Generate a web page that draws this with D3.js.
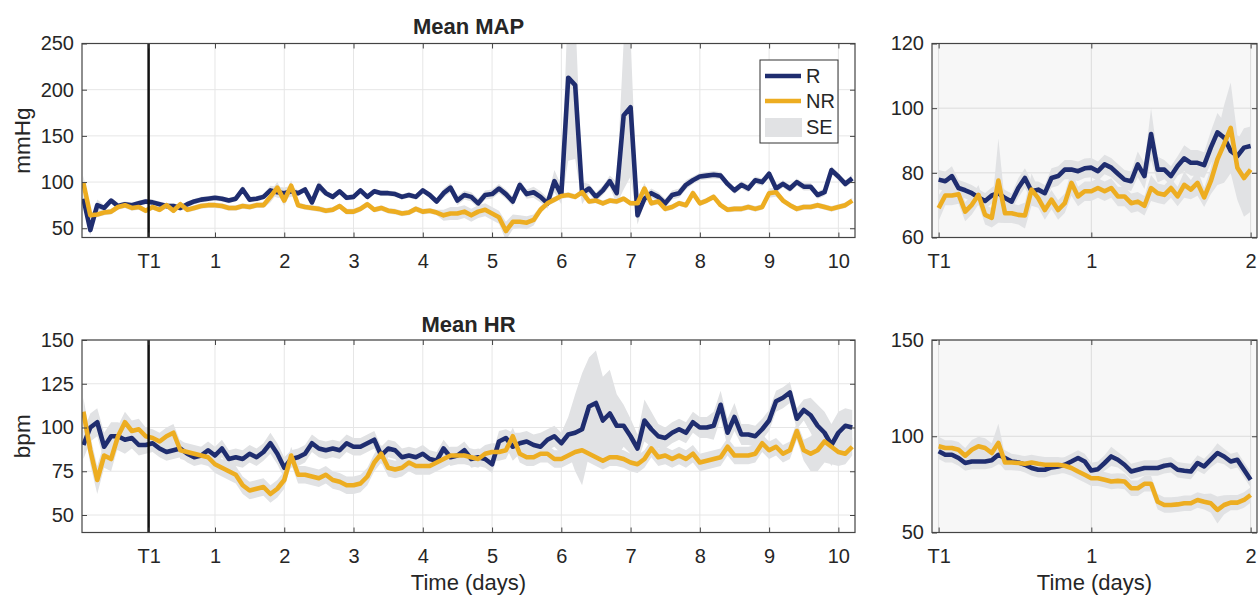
<!DOCTYPE html>
<html>
<head>
<meta charset="utf-8">
<script src="https://cdn.jsdelivr.net/npm/d3@7"></script>
<style>
  body { margin: 0; background: #fff; }
  svg text { font-family: "Liberation Sans", Arial, Helvetica, sans-serif; fill: #262626; }
</style>
</head>
<body>
<svg id="chart" width="1259" height="596"></svg>
<script>

// ---- data: full course, one value every 0.1 day starting at -0.9 days
var leftStart = -0.9, leftStep = 0.1;

var mapR = [82,48,75,72,80,74,76,75,77,
  79,78,76,74,74,72,76,79,81,82,
  83,82,80,82,92,81,82,84,91,89,
  88,90,88,92,78,96,88,84,90,83,
  84,91,84,90,88,88,87,84,86,84,
  91,86,79,88,94,80,86,84,77,86,
  87,93,87,79,97,87,89,84,77,101,
  86,213,205,88,93,84,91,101,88,172,
  181,64,82,88,84,77,86,88,97,102,
  106,107,108,107,98,91,97,93,102,100,
  109,93,98,93,100,95,95,86,89,113,
  106,98,104];
var mapNR = [99,64,65,67,68,73,75,72,73,
  69,73,70,75,69,76,70,72,74,75,
  75,74,72,72,74,73,75,75,84,94,
  80,96,75,73,72,71,69,70,74,68,
  68,71,76,70,72,69,68,66,67,71,
  68,69,67,64,66,66,68,64,68,70,
  66,62,47,57,57,56,59,70,77,81,
  85,86,84,89,79,80,77,80,79,82,
  77,77,93,77,79,71,73,77,75,88,
  77,80,84,75,70,71,71,73,71,73,
  88,89,80,75,71,73,73,75,73,71,
  73,75,80];
var mapSeR = [6,6,6,3,3,3,3,3,3,
  3,3,3,3,3,3,3,3,3,3,
  3,3,3,3,4,3,3,3,5,6,
  6,6,3,3,6,6,3,3,3,3,
  3,3,3,3,3,3,3,3,3,3,
  3,3,3,5,5,5,5,5,5,5,
  5,5,5,5,5,5,6,6,6,12,
  10,90,80,12,5,5,5,6,12,80,
  75,10,5,5,5,5,5,5,5,4,
  4,4,4,4,4,4,4,4,4,4,
  4,4,4,4,4,4,4,4,4,4,
  4,4,4];
var mapSeNR = [8,4,3,3,3,3,3,3,3,
  3,3,3,3,3,3,3,3,3,3,
  3,3,3,3,3,3,3,3,6,6,
  6,6,3,3,3,3,3,3,3,3,
  3,3,3,3,3,3,3,3,3,3,
  3,3,3,6,7,7,7,7,7,7,
  7,7,10,8,7,7,6,4,3,3,
  3,3,3,3,3,3,3,3,3,3,
  3,3,6,3,3,3,3,3,3,4,
  3,3,3,3,3,3,3,3,3,3,
  5,5,3,3,3,3,3,3,3,3,
  3,3,3];

var hrR = [90,100,103,89,95,95,93,94,90,
  90,91,88,86,87,88,85,83,84,87,
  84,88,82,83,82,85,83,86,91,85,
  77,82,83,85,91,88,87,88,87,91,
  89,89,91,93,84,88,87,83,84,83,
  85,82,81,88,83,84,87,82,83,82,
  79,92,94,89,91,92,90,89,93,95,
  91,96,97,99,112,114,104,108,101,101,
  95,88,104,99,95,94,97,99,97,103,
  100,100,101,113,97,106,96,96,95,99,
  104,115,117,120,105,110,107,101,97,90,
  97,101,100];
var hrNR = [109,87,70,84,82,95,103,98,99,
  95,94,92,95,97,87,86,85,84,83,
  79,77,75,73,67,64,65,66,62,65,
  70,84,73,73,72,71,73,70,69,67,
  67,68,72,80,85,77,76,77,80,78,
  78,78,80,82,84,84,84,83,82,85,
  86,86,87,95,85,83,83,85,85,82,
  82,84,86,87,85,83,81,83,83,82,
  80,79,82,88,83,84,82,84,82,85,
  80,81,82,83,89,84,84,84,85,91,
  87,89,85,87,98,87,85,87,92,89,
  86,85,89];
var hrSeR = [8,8,8,8,8,8,8,6,6,
  5,5,5,5,5,5,5,5,5,5,
  5,5,5,5,5,5,5,5,6,6,
  6,5,5,5,5,5,5,5,5,5,
  5,5,5,5,5,5,5,5,5,5,
  5,5,5,5,5,5,5,5,5,5,
  5,6,5,8,6,6,6,8,6,6,
  6,10,22,32,28,30,25,25,18,12,
  10,8,12,10,7,6,6,6,6,6,
  6,6,8,8,8,8,6,6,6,6,
  6,6,6,6,6,6,10,12,12,12,
  12,10,10];
var hrSeNR = [8,8,8,7,7,6,6,6,6,
  5,5,5,5,5,5,5,5,5,5,
  5,5,5,5,5,5,5,5,5,5,
  5,5,5,5,5,5,5,5,5,5,
  5,5,5,5,5,5,5,5,5,5,
  5,5,5,5,5,5,5,5,5,5,
  5,5,5,5,5,5,5,5,5,5,
  5,5,5,5,5,5,5,5,5,5,
  5,5,5,5,5,5,5,5,5,5,
  5,5,5,5,5,5,5,5,5,5,
  5,5,5,5,5,6,10,12,12,10,
  8,6,5];

// ---- data: zoom T1 .. day 2, hourly
var zoomStep = 1 / 24;

var mapZoomR = [77.9,77.4,79,75.3,74.6,73.7,72.4,71.3,73,73.7,72.2,71.1,75.3,78.4,74.3,74.8,
  73.7,78.4,79,81,81,80.5,81.4,81.6,80.5,82.6,81.6,79.7,77.9,77.4,82.6,79,
  92,81,81,79,82.1,84.5,83.1,83.1,82.4,87.8,92.5,90.9,86.8,85.2,87.8,88.3];
var mapZoomNR = [69.1,73,73,73.4,68,70.1,73.2,67,66.1,77.6,67.5,67.5,67,66.8,74.8,72.2,
  68.5,71.7,68.5,70.6,76.9,72.7,74.3,74.3,75.3,74.3,75.3,72.7,72.7,70.6,71.1,69.8,
  75.3,73.7,73.2,75.3,72.7,76.3,74.8,76.9,72.4,77.4,84.2,88.9,93.9,81.6,78.4,81];
var mapZoomSeR = [3,3,3,2.5,2.5,2.5,2.5,2.5, 2.5,3,2.5,2.5,3,3,3,2.5,
  2.5,3,3,3,3,3,3,3, 3,3,3,3,3,3,4,4,
  8,4,3,3,3,4,4,4, 4,5,6,5,5,5,6,6];
var mapZoomSeNR = [4,3,3,3,3,3,3,3, 3,13,3,3,3,4,5,3,
  3,3,3,3,4,3,3,3, 3,3,3,3,3,3,3,3,
  4,3,3,3,3,4,3,4, 3,4,8,12,14,10,12,13];

var hrZoomR = [92.2,90.4,90.4,88.7,86.1,86.9,86.9,86.9,87.5,90.4,88.7,86.9,86.4,85.2,83.5,82.6,
  82.6,83.8,84.3,85.2,86.9,88.7,86.9,82.2,82.9,86.1,89.5,87.8,85.2,81.7,82.6,83.5,
  83.5,83.5,84.7,85.2,82.6,82.1,81.7,86.1,84.3,87.8,91.3,89.5,86.9,87.8,82.6,77.4];
var hrZoomNR = [94.8,93.9,93.9,93,89.9,93,94.8,93.9,91.3,96.5,86.4,86.4,86.1,85.7,86.4,85.7,
  85.2,85.2,85.2,84.7,83.5,81.7,80,78.2,78.2,77.4,76.5,76.8,76.5,73,73,75.3,
  75.3,66,64.3,64.3,64.6,65.2,65.2,66.9,66,65.2,61.7,64.3,65.5,65.5,66.9,69.5];
var hrZoomSeR = [4,4,4,4,4,4,4,4, 4,5,4,4,4,4,4,4,
  4,4,4,4,4,4,4,4, 4,4,5,4,4,4,4,4,
  4,4,4,4,4,4,4,4, 4,4,5,4,4,4,4,4];
var hrZoomSeNR = [5,4,4,4,4,5,5,5, 5,10,4,4,4,4,4,4,
  4,4,4,4,4,4,4,4, 4,4,4,4,4,4,4,4,
  4,4,4,4,4,4,4,4, 4,5,7,5,4,4,4,4];

// ---- ticks
var t1 = 1 / 24;
var leftXTicks = [t1, 1, 2, 3, 4, 5, 6, 7, 8, 9, 10];
var leftXLabels = ["T1", "1", "2", "3", "4", "5", "6", "7", "8", "9", "10"];
var rightXTicks = [t1, 1, 2];
var rightXLabels = ["T1", "1", "2"];
var mapYTicks = [50, 100, 150, 200, 250];
var hrYTicks = [50, 75, 100, 125, 150];
var mapZoomYTicks = [60, 80, 100, 120];
var hrZoomYTicks = [50, 100, 150];

var colR = "#1f2d6f", colNR = "#edad21", colSE = "#e1e2e4";
var svg = d3.select("#chart");
var clipN = 0;

function panel(o) {
  var x = d3.scaleLinear().domain(o.xDomain).range(o.xRange);
  var y = d3.scaleLinear().domain(o.yDomain).range([o.bottom, o.top]);
  var w = o.xRange[1] - o.xRange[0], h = o.bottom - o.top;
  var g = svg.append("g");
  var id = "clip" + (clipN++);

  g.append("clipPath").attr("id", id).append("rect")
    .attr("x", o.xRange[0]).attr("y", o.top).attr("width", w).attr("height", h);

  g.append("rect").attr("x", o.xRange[0]).attr("y", o.top)
    .attr("width", w).attr("height", h).attr("fill", o.bg);

  // grid
  g.selectAll(null).data(o.xTicks).enter().append("line")
    .attr("x1", function(d) { return x(d); }).attr("x2", function(d) { return x(d); })
    .attr("y1", o.top).attr("y2", o.bottom)
    .attr("stroke", o.grid).attr("stroke-width", 1);
  g.selectAll(null).data(o.yTicks).enter().append("line")
    .attr("y1", function(d) { return y(d); }).attr("y2", function(d) { return y(d); })
    .attr("x1", o.xRange[0]).attr("x2", o.xRange[1])
    .attr("stroke", o.grid).attr("stroke-width", 1);

  var plot = g.append("g").attr("clip-path", "url(#" + id + ")");

  o.series.forEach(function(s) {
    var pts = s.vals.map(function(v, i) { return { t: s.start + i * s.step, v: v, e: s.se[i] }; });
    plot.append("path").datum(pts)
      .attr("fill", colSE)
      .attr("d", d3.area().x(function(d) { return x(d.t); })
        .y0(function(d) { return y(d.v - d.e); })
        .y1(function(d) { return y(d.v + d.e); }));
  });
  o.series.forEach(function(s) {
    var pts = s.vals.map(function(v, i) { return { t: s.start + i * s.step, v: v }; });
    plot.append("path").datum(pts)
      .attr("fill", "none").attr("stroke", s.color).attr("stroke-width", 4.6)
      .attr("stroke-linejoin", "round")
      .attr("d", d3.line().x(function(d) { return x(d.t); }).y(function(d) { return y(d.v); }));
  });

  if (o.t1line) {
    plot.append("line").attr("x1", x(t1)).attr("x2", x(t1))
      .attr("y1", o.top).attr("y2", o.bottom)
      .attr("stroke", "#111").attr("stroke-width", 2.5);
  }

  // axes, ticks pointing inward
  var ax = g.append("g").attr("transform", "translate(0," + o.bottom + ")")
    .call(d3.axisBottom(x).tickValues(o.xTicks)
      .tickFormat(function(d, i) { return o.xLabels[i]; })
      .tickSizeInner(-5).tickSizeOuter(0).tickPadding(16));
  var ay = g.append("g").attr("transform", "translate(" + o.xRange[0] + ",0)")
    .call(d3.axisLeft(y).tickValues(o.yTicks).tickSizeInner(-5).tickSizeOuter(0).tickPadding(8));
  var at = g.append("g").attr("transform", "translate(0," + o.top + ")")
    .call(d3.axisTop(x).tickValues(o.xTicks).tickFormat("").tickSizeInner(-5).tickSizeOuter(0));
  var ar = g.append("g").attr("transform", "translate(" + o.xRange[1] + ",0)")
    .call(d3.axisRight(y).tickValues(o.yTicks).tickFormat("").tickSizeInner(-5).tickSizeOuter(0));

  [ax, ay, at, ar].forEach(function(a) {
    a.select(".domain").remove();
    a.selectAll(".tick line").attr("stroke", "#444");
    a.selectAll("text").attr("font-size", 20).style("font-family", "Liberation Sans, Arial, sans-serif").attr("fill", "#333");
  });

  g.append("rect").attr("x", o.xRange[0]).attr("y", o.top)
    .attr("width", w).attr("height", h)
    .attr("fill", "none").attr("stroke", "#444").attr("stroke-width", 1.2);

  return { x: x, y: y };
}

var leftX = [82, 855], rightX = [932, 1257];
var topY = [43.5, 237.5], botY = [340, 532.5];

panel({ xDomain: [-0.92, 10.24], xRange: leftX, yDomain: [40, 250], top: topY[0], bottom: topY[1],
  xTicks: leftXTicks, xLabels: leftXLabels, yTicks: mapYTicks, bg: "#fff", grid: "#e6e6e6", t1line: true,
  series: [
    { vals: mapR, se: mapSeR, start: leftStart, step: leftStep, color: colR },
    { vals: mapNR, se: mapSeNR, start: leftStart, step: leftStep, color: colNR }
  ] });

panel({ xDomain: [-0.92, 10.24], xRange: leftX, yDomain: [40, 150], top: botY[0], bottom: botY[1],
  xTicks: leftXTicks, xLabels: leftXLabels, yTicks: hrYTicks, bg: "#fff", grid: "#e6e6e6", t1line: true,
  series: [
    { vals: hrR, se: hrSeR, start: leftStart, step: leftStep, color: colR },
    { vals: hrNR, se: hrSeNR, start: leftStart, step: leftStep, color: colNR }
  ] });

panel({ xDomain: [0, 2.04], xRange: rightX, yDomain: [60, 120], top: topY[0], bottom: topY[1],
  xTicks: rightXTicks, xLabels: rightXLabels, yTicks: mapZoomYTicks, bg: "#f7f7f7", grid: "#dcdcdc", t1line: false,
  series: [
    { vals: mapZoomR, se: mapZoomSeR, start: zoomStep, step: zoomStep, color: colR },
    { vals: mapZoomNR, se: mapZoomSeNR, start: zoomStep, step: zoomStep, color: colNR }
  ] });

panel({ xDomain: [0, 2.04], xRange: rightX, yDomain: [50, 150], top: botY[0], bottom: botY[1],
  xTicks: rightXTicks, xLabels: rightXLabels, yTicks: hrZoomYTicks, bg: "#f7f7f7", grid: "#dcdcdc", t1line: false,
  series: [
    { vals: hrZoomR, se: hrZoomSeR, start: zoomStep, step: zoomStep, color: colR },
    { vals: hrZoomNR, se: hrZoomSeNR, start: zoomStep, step: zoomStep, color: colNR }
  ] });

// titles and labels
var leftMid = (leftX[0] + leftX[1]) / 2, rightMid = (rightX[0] + rightX[1]) / 2;
svg.append("text").attr("x", leftMid).attr("y", 34).attr("text-anchor", "middle")
  .attr("font-size", 22).attr("font-weight", "bold").attr("fill", "#1a1a1a").text("Mean MAP");
svg.append("text").attr("x", leftMid).attr("y", 332).attr("text-anchor", "middle")
  .attr("font-size", 22).attr("font-weight", "bold").attr("fill", "#1a1a1a").text("Mean HR");
svg.append("text").attr("x", leftMid).attr("y", 590).attr("text-anchor", "middle")
  .attr("font-size", 22).attr("fill", "#333").text("Time (days)");
svg.append("text").attr("x", rightMid).attr("y", 590).attr("text-anchor", "middle")
  .attr("font-size", 22).attr("fill", "#333").text("Time (days)");
svg.append("text").attr("transform", "translate(30," + (topY[0] + topY[1]) / 2 + ") rotate(-90)")
  .attr("text-anchor", "middle").attr("font-size", 22.5).attr("fill", "#333").text("mmHg");
svg.append("text").attr("transform", "translate(30," + (botY[0] + botY[1]) / 2 + ") rotate(-90)")
  .attr("text-anchor", "middle").attr("font-size", 22.5).attr("fill", "#333").text("bpm");

// legend
var lg = svg.append("g").attr("transform", "translate(760,60)");
lg.append("rect").attr("width", 78).attr("height", 83).attr("fill", "#fff")
  .attr("stroke", "#333").attr("stroke-width", 1);
var legendItems = [
  { name: "R", type: "line", color: colR, y: 16 },
  { name: "NR", type: "line", color: colNR, y: 41 },
  { name: "SE", type: "patch", color: colSE, y: 67 }
];
legendItems.forEach(function(it) {
  if (it.type === "line") {
    lg.append("line").attr("x1", 5).attr("x2", 41).attr("y1", it.y).attr("y2", it.y)
      .attr("stroke", it.color).attr("stroke-width", 4.6);
  } else {
    lg.append("rect").attr("x", 5).attr("y", it.y - 9).attr("width", 37).attr("height", 19)
      .attr("fill", it.color);
  }
  lg.append("text").attr("x", 46).attr("y", it.y).attr("dy", "0.35em")
    .attr("font-size", 20).attr("fill", "#262626").text(it.name);
});
</script>
</body>
</html>
